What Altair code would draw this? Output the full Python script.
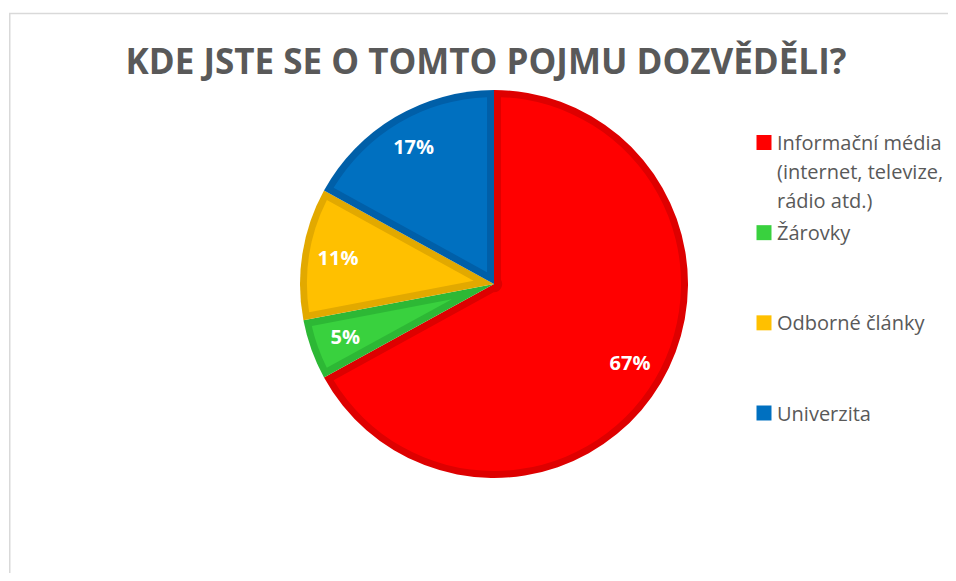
import altair as alt
import pandas as pd

# --- data ---
titulek = "KDE JSTE SE O TOMTO POJMU DOZVĚDĚLI?"
kategorie = [
    "Informační média (internet, televize, rádio atd.)",
    "Žárovky",
    "Odborné články",
    "Univerzita",
]
legenda_text = [
    "Informační média\n(internet, televize,\nrádio atd.)",
    "Žárovky",
    "Odborné články",
    "Univerzita",
]
hodnoty = [67, 5, 11, 17]
poradi = [1, 2, 3, 4]

# --- styles ---
barvy = ["#FF0000", "#39D13E", "#FFC000", "#0070C0"]
barvy_okraj = ["#DE0000", "#2DB835", "#E2A900", "#005FA8"]
SEDA = "#595959"
FONT = "Open Sans"

df = pd.DataFrame({"kategorie": kategorie, "hodnota": hodnoty,
                   "poradi": poradi, "legenda": legenda_text})

W, H = 940, 565
CX, CY = 485, 276
R = 194
INSET = 7
PAD = 2 * 0.0372  # ~7 px side inset at outer radius

base = alt.Chart(df).transform_joinaggregate(
    celkem="sum(hodnota)"
).transform_calculate(popisek="datum.hodnota + '%'")

theta = alt.Theta("hodnota:Q", stack=True)
order = alt.Order("poradi:Q", sort="ascending")

okraj = base.mark_arc(outerRadius=R, innerRadius=0).encode(
    theta=theta, order=order,
    color=alt.Color("kategorie:N", scale=alt.Scale(domain=kategorie, range=barvy_okraj), legend=None),
    x=alt.value(CX), y=alt.value(CY),
)

vypln = base.mark_arc(
    outerRadius=R - INSET,
    innerRadius=alt.ExprRef(expr=f"{INSET} / max(0.05, abs(sin(datum.hodnota / datum.celkem * PI)))"),
    padAngle=PAD,
).encode(
    theta=theta, order=order,
    color=alt.Color("kategorie:N", scale=alt.Scale(domain=kategorie, range=barvy), legend=None),
    x=alt.value(CX), y=alt.value(CY),
)

popisky = base.mark_text(radius=158, font=FONT, fontSize=20, fontWeight="bold", color="white").encode(
    theta=theta, order=order, detail="kategorie:N",
    text="popisek:N",
    x=alt.value(CX), y=alt.value(CY),
)

leg_y = alt.Y("poradi:Q", scale=alt.Scale(domain=[1, 4], range=[134.5, 405]), axis=None)

leg_ctverce = base.mark_square(size=225, opacity=1).encode(
    x=alt.value(755), y=leg_y,
    color=alt.Color("kategorie:N", scale=alt.Scale(domain=kategorie, range=barvy), legend=None),
)

leg_text = base.mark_text(align="left", baseline="alphabetic", dy=7.5, lineBreak="\n",
                          lineHeight=29, font=FONT, fontSize=20, color=SEDA).encode(
    x=alt.value(768), y=leg_y, text="legenda:N",
)

tdf = pd.DataFrame({"t": [titulek]})
nadpis = alt.Chart(tdf).mark_text(font=FONT, fontSize=35, fontWeight="bold", color=SEDA,
                                  align="center", baseline="alphabetic").encode(
    x=alt.value(477), y=alt.value(66), text="t:N")

ram_h = alt.Chart(tdf).mark_rule(color="#D9D9D9", strokeWidth=1.5).encode(
    x=alt.value(0), x2=alt.value(W), y=alt.value(5.5))
ram_v = alt.Chart(tdf).mark_rule(color="#D9D9D9", strokeWidth=1.5).encode(
    x=alt.value(0.75), y=alt.value(5), y2=alt.value(H))

chart = alt.layer(ram_h, ram_v, okraj, vypln, popisky, leg_ctverce, leg_text, nadpis).resolve_scale(
    color="independent"
).properties(
    width=W, height=H,
    autosize=alt.AutoSizeParams(type="fit", contains="padding"),
    padding=0,
).configure_view(stroke=None)

chart.save("out.html", embed_options={"renderer": "svg", "actions": False})
